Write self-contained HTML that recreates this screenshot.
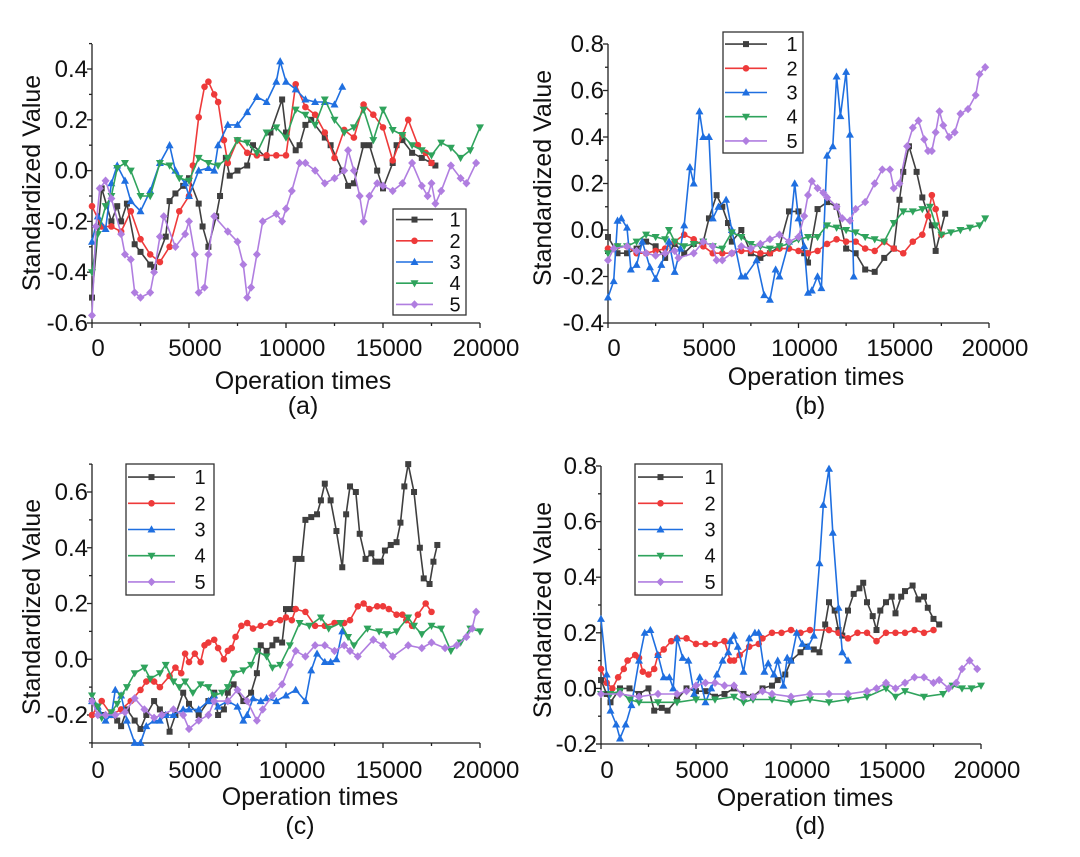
<!DOCTYPE html>
<html><head><meta charset="utf-8"><style>
html,body{margin:0;padding:0;background:#fff;}
svg{display:block;font-family:"Liberation Sans",Arial,sans-serif;}
</style></head><body>
<svg id="fig" width="1080" height="857" viewBox="0 0 1080 857" xmlns="http://www.w3.org/2000/svg"></svg>
<script>
// ---------- data ----------
const xTickLabels = [0, 5000, 10000, 15000, 20000];
const aYTicks = [-0.6, -0.4, -0.2, 0.0, 0.2, 0.4];
const bYTicks = [-0.4, -0.2, 0.0, 0.2, 0.4, 0.6, 0.8];
const cYTicks = [-0.2, 0.0, 0.2, 0.4, 0.6];
const dYTicks = [-0.2, 0.0, 0.2, 0.4, 0.6, 0.8];
const seriesNames = ["1", "2", "3", "4", "5"];

const a1 = [[0,-0.5],[500,-0.07],[1000,-0.2],[1300,-0.14],[1500,-0.2],[1800,-0.13],[2200,-0.29],[2500,-0.32],[3000,-0.37],[3200,-0.38],[3800,-0.26],[4000,-0.12],[4300,-0.09],[4700,-0.06],[5000,-0.03],[5500,-0.13],[5700,-0.22],[6000,-0.3],[6400,-0.18],[6600,-0.1],[6900,0.05],[7100,-0.02],[7500,0.0],[8000,0.02],[8300,0.1],[9000,0.05],[9200,0.15],[9800,0.28],[10000,0.15],[10500,0.08],[10700,0.1],[11000,0.18],[11300,0.2],[12000,0.13],[12300,0.1],[12900,0.0],[13200,-0.06],[13500,-0.05],[14000,0.1],[14300,0.1],[14700,0.0],[15000,-0.07],[15500,0.03],[15700,0.1],[16000,0.12],[16500,0.07],[17000,0.05],[17500,0.03],[17700,0.02]];
const a2 = [[0,-0.14],[500,-0.22],[1000,-0.22],[1500,-0.24],[2000,-0.16],[2500,-0.27],[3000,-0.33],[3500,-0.36],[4000,-0.3],[4500,-0.16],[5000,-0.1],[5200,0.02],[5500,0.21],[5800,0.33],[6000,0.35],[6300,0.3],[6500,0.27],[6800,0.12],[7000,0.03],[7500,0.12],[8000,0.07],[8500,0.06],[9000,0.06],[9500,0.06],[10000,0.06],[10500,0.34],[11000,0.25],[11500,0.22],[12000,0.15],[12500,0.05],[13000,0.16],[13500,0.13],[14000,0.26],[14500,0.22],[15000,0.17],[15500,0.04],[16000,0.14],[16300,0.2],[16800,0.1],[17200,0.07],[17500,0.03]];
const a3 = [[0,-0.28],[300,-0.18],[700,-0.23],[1000,-0.05],[1300,0.02],[1700,-0.04],[2000,-0.12],[2500,-0.16],[3000,-0.08],[3500,0.03],[4000,0.1],[4300,0.0],[4800,-0.05],[5000,-0.1],[5500,0.0],[6000,0.01],[6300,0.0],[6500,0.1],[7000,0.18],[7500,0.18],[8000,0.23],[8500,0.29],[9000,0.27],[9500,0.35],[9700,0.43],[10000,0.35],[10500,0.32],[11000,0.28],[11500,0.27],[12000,0.27],[12500,0.26],[12900,0.33]];
const a4 = [[0,-0.4],[300,-0.25],[700,-0.14],[1000,-0.1],[1300,0.01],[1700,0.03],[2000,0.0],[2500,-0.1],[3000,-0.1],[3500,0.03],[4000,0.02],[4500,-0.03],[5000,-0.04],[5500,0.05],[6000,0.03],[6500,0.02],[7000,0.05],[7500,0.12],[8000,0.11],[8500,0.07],[9000,0.15],[9500,0.17],[10000,0.13],[10500,0.24],[11000,0.22],[11500,0.18],[12000,0.28],[12500,0.2],[13000,0.15],[13500,0.17],[14000,0.24],[14500,0.12],[15000,0.24],[15500,0.16],[16000,0.14],[16500,0.1],[17000,0.08],[17500,0.06],[18000,0.11],[18500,0.09],[19000,0.05],[19500,0.08],[20000,0.17]];
const a5 = [[0,-0.57],[200,-0.22],[400,-0.07],[700,-0.04],[1000,-0.11],[1500,-0.25],[1700,-0.33],[2000,-0.35],[2200,-0.48],[2500,-0.5],[3000,-0.48],[3200,-0.4],[3500,-0.26],[3700,-0.18],[4300,-0.3],[4800,-0.25],[5000,-0.2],[5300,-0.33],[5500,-0.48],[5800,-0.46],[6000,-0.33],[6300,-0.18],[7000,-0.24],[7500,-0.28],[7800,-0.37],[8000,-0.5],[8200,-0.46],[8500,-0.33],[8800,-0.2],[9500,-0.17],[9800,-0.2],[10000,-0.15],[10300,-0.08],[10700,0.03],[11000,0.03],[11500,0.0],[12000,-0.05],[12500,-0.03],[13000,0.0],[13200,0.08],[13500,0.0],[13800,-0.1],[14000,-0.2],[14300,-0.1],[14700,-0.05],[15000,-0.06],[15500,-0.08],[16000,-0.05],[16500,0.03],[17000,-0.06],[17300,-0.1],[17500,-0.05],[17700,-0.13],[18000,-0.08],[18500,0.02],[19000,-0.03],[19300,-0.05],[19800,0.03]];

const b1 = [[0,-0.03],[500,-0.1],[1000,-0.1],[1500,-0.08],[2000,-0.05],[2500,-0.07],[3000,-0.12],[3500,-0.06],[4000,-0.1],[4500,-0.06],[5000,-0.05],[5300,0.05],[5700,0.15],[6000,0.1],[6300,0.03],[6500,-0.05],[7000,0.0],[7500,-0.1],[8000,-0.12],[8500,-0.1],[9000,-0.07],[9500,0.08],[10000,0.08],[10300,-0.1],[10500,-0.14],[11000,0.09],[11500,0.12],[12000,0.1],[12500,-0.08],[13000,-0.1],[13500,-0.17],[14000,-0.18],[14500,-0.12],[15000,-0.08],[15300,0.13],[15500,0.25],[15800,0.36],[16200,0.25],[16500,0.14],[17000,0.02],[17200,-0.09],[17700,0.07]];
const b2 = [[0,-0.08],[500,-0.07],[1000,-0.07],[1500,-0.1],[2000,-0.1],[2500,-0.09],[3000,-0.08],[3500,-0.05],[4000,-0.02],[4500,-0.04],[5000,-0.07],[5500,-0.1],[6000,-0.1],[6500,-0.1],[7000,-0.09],[7500,-0.09],[8000,-0.1],[8500,-0.1],[9000,-0.08],[9500,-0.08],[10000,-0.09],[10500,-0.1],[11000,-0.09],[11500,-0.06],[12000,-0.04],[12500,-0.05],[13000,-0.05],[13500,-0.08],[14000,-0.09],[14500,-0.05],[15000,-0.08],[15500,-0.1],[16000,-0.05],[16500,-0.02],[16800,0.06],[17000,0.15],[17200,0.09],[17500,-0.02]];
const b3 = [[0,-0.29],[300,-0.22],[500,0.04],[700,0.05],[1000,0.01],[1200,-0.17],[1500,-0.15],[1800,-0.05],[2200,-0.16],[2500,-0.21],[2800,-0.15],[3200,-0.05],[3500,-0.18],[3800,-0.08],[4000,0.02],[4300,0.27],[4500,0.2],[4800,0.51],[5000,0.4],[5300,0.4],[5500,0.05],[5800,0.1],[6200,0.13],[6500,0.0],[7000,-0.2],[7200,-0.2],[7800,-0.13],[8200,-0.28],[8500,-0.3],[8800,-0.17],[9000,-0.2],[9500,-0.05],[9800,0.2],[10000,0.05],[10300,-0.07],[10500,-0.27],[10700,-0.26],[11000,-0.2],[11200,-0.25],[11500,0.32],[11800,0.36],[12000,0.66],[12200,0.49],[12500,0.68],[12700,0.41],[12900,-0.2]];
const b4 = [[0,-0.1],[500,-0.07],[1000,-0.07],[1500,-0.05],[2000,-0.02],[2500,-0.03],[3000,-0.04],[3200,0.0],[3500,-0.05],[4000,-0.07],[4500,-0.06],[5000,-0.05],[5500,-0.07],[6000,-0.08],[6500,-0.01],[7000,-0.03],[7500,-0.06],[8000,-0.07],[8500,-0.08],[9000,-0.07],[9500,-0.06],[10000,-0.04],[10500,-0.03],[11000,-0.03],[11500,0.02],[12000,0.01],[12500,0.0],[13000,-0.01],[13500,-0.03],[14000,-0.04],[14500,-0.05],[15000,0.03],[15500,0.08],[16000,0.08],[16500,0.09],[16900,0.1],[17200,0.02],[17500,-0.02],[18000,-0.01],[18500,0.0],[19000,0.01],[19500,0.02],[19800,0.05]];
const b5 = [[0,-0.13],[300,-0.08],[1000,-0.07],[1500,-0.09],[2000,-0.1],[2500,-0.11],[3000,-0.1],[3500,-0.09],[3700,-0.12],[4500,-0.1],[5000,-0.05],[5500,-0.07],[5700,-0.13],[6000,-0.13],[6500,-0.1],[7000,-0.07],[7500,-0.08],[8000,-0.06],[8500,-0.04],[9000,-0.02],[9500,-0.05],[10000,-0.03],[10300,0.06],[10500,0.15],[10700,0.21],[11000,0.18],[11300,0.16],[11500,0.14],[12000,0.1],[12300,0.05],[12700,0.04],[13000,0.09],[13500,0.12],[14000,0.2],[14400,0.26],[14800,0.26],[15000,0.18],[15300,0.2],[15700,0.36],[16000,0.44],[16300,0.47],[16600,0.39],[16800,0.34],[17000,0.34],[17200,0.42],[17400,0.51],[17600,0.45],[17900,0.4],[18200,0.42],[18500,0.5],[18900,0.52],[19300,0.58],[19500,0.67],[19800,0.7]];

const c1 = [[0,-0.15],[500,-0.2],[1000,-0.2],[1300,-0.22],[1500,-0.24],[1800,-0.18],[2200,-0.22],[2500,-0.25],[2800,-0.2],[3200,-0.15],[3500,-0.18],[3800,-0.2],[4000,-0.26],[4300,-0.2],[4700,-0.12],[5000,-0.16],[5500,-0.2],[6000,-0.15],[6300,-0.12],[6500,-0.2],[6800,-0.18],[7000,-0.12],[7300,-0.09],[7800,-0.15],[8200,-0.12],[8500,-0.05],[8700,0.05],[9000,0.03],[9300,0.05],[9500,0.07],[9800,0.06],[10000,0.18],[10300,0.18],[10500,0.36],[10800,0.36],[11000,0.5],[11300,0.51],[11600,0.52],[11800,0.57],[12000,0.63],[12300,0.57],[12600,0.46],[12900,0.33],[13100,0.52],[13300,0.62],[13600,0.6],[13800,0.45],[14100,0.36],[14400,0.38],[14600,0.35],[14900,0.35],[15100,0.39],[15400,0.41],[15700,0.42],[15900,0.49],[16100,0.62],[16300,0.7],[16600,0.6],[16900,0.4],[17100,0.29],[17400,0.27],[17600,0.35],[17800,0.41]];
const c2 = [[0,-0.2],[500,-0.15],[1000,-0.2],[1500,-0.18],[2000,-0.15],[2500,-0.11],[2800,-0.08],[3200,-0.08],[3500,-0.1],[4000,-0.06],[4300,-0.03],[4600,-0.05],[4800,0.02],[5000,-0.01],[5300,0.02],[5600,-0.01],[5800,0.05],[6000,0.06],[6300,0.07],[6500,0.04],[6800,0.0],[7000,0.03],[7200,0.04],[7400,0.08],[7700,0.12],[8000,0.13],[8300,0.11],[8700,0.12],[9200,0.13],[9700,0.14],[10000,0.15],[10300,0.14],[10500,0.18],[11000,0.17],[11500,0.12],[12000,0.12],[12500,0.13],[13000,0.13],[13300,0.14],[13700,0.19],[14000,0.2],[14300,0.18],[14700,0.19],[15000,0.19],[15300,0.18],[15700,0.16],[16000,0.16],[16200,0.14],[16500,0.12],[16800,0.16],[17200,0.2],[17500,0.17]];
const c3 = [[0,-0.15],[300,-0.17],[700,-0.22],[1000,-0.2],[1200,-0.11],[1500,-0.13],[1800,-0.22],[2200,-0.3],[2500,-0.3],[2800,-0.24],[3200,-0.22],[3500,-0.22],[3800,-0.2],[4200,-0.2],[4700,-0.18],[5000,-0.18],[5500,-0.18],[6000,-0.15],[6300,-0.13],[6500,-0.17],[7000,-0.15],[7500,-0.17],[7800,-0.22],[8000,-0.2],[8300,-0.14],[8700,-0.15],[9000,-0.14],[9500,-0.15],[10000,-0.13],[10500,-0.11],[11000,-0.15],[11300,-0.04],[11600,0.02],[12000,-0.01],[12300,-0.01],[12600,0.0],[12900,0.1]];
const c4 = [[0,-0.13],[300,-0.17],[500,-0.21],[1000,-0.19],[1300,-0.16],[1500,-0.13],[1800,-0.1],[2200,-0.05],[2700,-0.03],[3000,-0.07],[3500,-0.05],[3800,-0.02],[4200,-0.08],[4500,-0.1],[4800,-0.08],[5200,-0.12],[5600,-0.09],[6000,-0.1],[6300,-0.13],[6700,-0.12],[7000,-0.1],[7300,-0.05],[7800,-0.04],[8200,-0.02],[8500,0.03],[9000,0.01],[9300,-0.03],[9700,-0.02],[10200,0.05],[10700,0.13],[11200,0.12],[11800,0.15],[12200,0.11],[12800,0.13],[13200,0.08],[13500,0.05],[14200,0.11],[14800,0.1],[15200,0.09],[15700,0.1],[16300,0.15],[16600,0.12],[17000,0.09],[17500,0.12],[18000,0.11],[18500,0.03],[19000,0.06],[19500,0.11],[20000,0.1]];
const c5 = [[0,-0.15],[300,-0.2],[700,-0.2],[1200,-0.2],[1700,-0.19],[2200,-0.14],[2700,-0.18],[3200,-0.21],[3600,-0.2],[4200,-0.18],[4700,-0.2],[5000,-0.25],[5500,-0.22],[6000,-0.2],[6300,-0.15],[7000,-0.15],[7500,-0.11],[8000,-0.15],[8500,-0.22],[8800,-0.18],[9300,-0.13],[9800,-0.09],[10200,-0.02],[10500,0.03],[11000,0.01],[11500,0.05],[12000,0.05],[12500,0.03],[13000,0.05],[13300,0.03],[13700,0.01],[14500,0.07],[15000,0.05],[15500,0.01],[16300,0.05],[17000,0.04],[17500,0.06],[18200,0.04],[18800,0.05],[19300,0.08],[19600,0.11],[19800,0.17]];

const d1 = [[0,0.03],[300,-0.02],[500,-0.05],[1000,0.0],[1500,0.0],[2000,-0.02],[2500,0.0],[2800,-0.08],[3200,-0.07],[3500,-0.08],[4000,-0.04],[4500,0.0],[5000,-0.01],[5500,-0.01],[6000,-0.03],[6500,-0.02],[7000,0.0],[7500,-0.02],[8000,-0.03],[8500,0.0],[9000,0.01],[9300,0.03],[9700,0.05],[10000,0.1],[10500,0.13],[10800,0.15],[11200,0.14],[11500,0.13],[11800,0.23],[12000,0.31],[12300,0.28],[12500,0.21],[12700,0.19],[13000,0.28],[13300,0.34],[13600,0.36],[13800,0.38],[14000,0.31],[14300,0.26],[14500,0.21],[14700,0.28],[15000,0.31],[15300,0.33],[15500,0.27],[15800,0.33],[16000,0.35],[16400,0.37],[16700,0.32],[17000,0.33],[17200,0.29],[17500,0.25],[17800,0.23]];
const d2 = [[0,0.07],[300,0.02],[600,0.0],[900,0.04],[1200,0.07],[1400,0.1],[1800,0.12],[2000,0.11],[2200,0.06],[2500,0.05],[2800,0.07],[3000,0.12],[3300,0.14],[3700,0.17],[4000,0.18],[4500,0.18],[5000,0.16],[5500,0.16],[6000,0.16],[6500,0.17],[6800,0.1],[7000,0.1],[7300,0.12],[7800,0.15],[8300,0.16],[8500,0.18],[9000,0.2],[9500,0.2],[10000,0.21],[10500,0.2],[11000,0.21],[12000,0.21],[12500,0.2],[13000,0.18],[13500,0.2],[14000,0.2],[14500,0.17],[15000,0.2],[15500,0.2],[16000,0.2],[16500,0.21],[17000,0.2],[17500,0.21]];
const d3 = [[0,0.25],[300,0.05],[500,-0.08],[800,-0.13],[1000,-0.18],[1300,-0.13],[1600,-0.06],[2000,0.1],[2300,0.2],[2600,0.21],[3000,0.12],[3300,0.04],[3600,0.04],[3800,0.0],[4000,0.18],[4300,0.11],[4600,0.1],[4900,-0.02],[5200,0.04],[5500,-0.05],[5800,0.0],[6100,0.05],[6400,0.1],[6700,0.13],[6800,0.17],[7000,0.19],[7200,0.15],[7500,0.06],[7800,0.18],[8100,0.2],[8300,0.2],[8600,0.06],[8800,0.09],[9100,0.05],[9300,0.1],[9600,0.01],[9800,0.11],[10000,0.1],[10300,0.2],[10600,0.16],[10900,0.15],[11200,0.19],[11500,0.45],[11700,0.66],[12000,0.79],[12200,0.56],[12500,0.29],[12700,0.13],[13000,0.1]];
const d4 = [[0,-0.02],[500,-0.02],[1000,-0.01],[1500,-0.04],[2000,-0.05],[3000,-0.05],[4000,-0.05],[5000,-0.04],[6000,-0.04],[7000,-0.03],[7500,-0.05],[8000,-0.04],[9000,-0.04],[10000,-0.05],[11000,-0.04],[12000,-0.05],[13000,-0.04],[14000,-0.03],[15000,0.0],[15500,-0.03],[16000,-0.01],[17000,-0.03],[18000,-0.02],[18500,0.01],[19000,0.0],[19500,0.0],[20000,0.01]];
const d5 = [[0,-0.02],[1000,-0.02],[2000,-0.03],[3000,-0.02],[4000,-0.02],[4500,-0.01],[5000,0.01],[5500,0.02],[6000,0.02],[6500,0.01],[7000,0.01],[7500,-0.03],[8000,-0.03],[8500,-0.01],[9000,-0.02],[10000,-0.03],[11000,-0.02],[12000,-0.02],[13000,-0.02],[14000,-0.01],[14500,0.0],[15000,0.02],[15500,0.0],[16000,0.02],[16500,0.04],[17000,0.04],[17500,0.02],[17800,0.03],[18300,0.0],[18700,0.02],[19000,0.07],[19400,0.1],[19800,0.07]];

// ---------- rendering ----------
const NS = "http://www.w3.org/2000/svg";
const COLORS = ["#3f3f3f", "#ee3a3a", "#1f6fe0", "#2fa35c", "#b07ee0"];
const MARKERS = ["square", "circle", "up", "down", "diamond"];
const svg = document.getElementById("fig");

function mk(tag, attrs, parent) {
  const e = document.createElementNS(NS, tag);
  for (const k in attrs) e.setAttribute(k, attrs[k]);
  (parent || svg).appendChild(e);
  return e;
}
function marker(g, type, x, y, color) {
  let e;
  if (type === "square") e = mk("rect", {x: x-3, y: y-3, width: 6, height: 6, fill: color}, g);
  else if (type === "circle") e = mk("circle", {cx: x, cy: y, r: 3.3, fill: color}, g);
  else if (type === "up") e = mk("polygon", {points: `${x},${y-4.2} ${x+4},${y+3} ${x-4},${y+3}`, fill: color}, g);
  else if (type === "down") e = mk("polygon", {points: `${x},${y+4.2} ${x+4},${y-3} ${x-4},${y-3}`, fill: color}, g);
  else e = mk("polygon", {points: `${x},${y-4.2} ${x+4},${y} ${x},${y+4.2} ${x-4},${y}`, fill: color}, g);
  return e;
}

function drawPanel(P, data, yTicks) {
  const g = mk("g", {});
  
  
  const xs = v => P.x0 + v / 20000 * (P.x1 - P.x0);
  const ys = v => P.yp0 + (v - P.yv0) / (P.yv1 - P.yv0) * (P.yp1 - P.yp0);

  const ax = mk("g", {stroke: "#222", "stroke-width": 1.3}, g);
  
  
  mk("line", {x1: P.x0, y1: P.top, x2: P.x0, y2: P.bottom}, ax);
  mk("line", {x1: P.x0, y1: P.bottom, x2: P.x1, y2: P.bottom}, ax);
  for (let v = 0; v <= 20000; v += 2500) {
    const x = xs(v), major = v % 5000 === 0;
    mk("line", {x1: x, y1: P.bottom, x2: x, y2: P.bottom + (major ? 5 : 3)}, ax);
  }
  const step = yTicks[1] - yTicks[0];
  for (let i = 0; i < yTicks.length; i++) {
    const y = ys(yTicks[i]);
    mk("line", {x1: P.x0 - 5, y1: y, x2: P.x0, y2: y}, ax);
    const ym = ys(yTicks[i] + step / 2);
    if (ym >= P.top - 0.5) mk("line", {x1: P.x0 - 3, y1: ym, x2: P.x0, y2: ym}, ax);
    const ymb = ys(yTicks[i] - step / 2);
    if (i === 0 && ymb <= P.bottom + 0.5) mk("line", {x1: P.x0 - 3, y1: ymb, x2: P.x0, y2: ymb}, ax);
    const t = mk("text", {x: P.x0 - 4, y: y + 8, "text-anchor": "end", "font-size": 24, fill: "#111"}, g);
    t.textContent = yTicks[i].toFixed(1);
    
    
  }
  for (const v of xTickLabels) {
    const t = mk("text", {x: xs(v) + 6, y: P.xLabelY + 8, "text-anchor": "middle", "font-size": 24, fill: "#111"}, g);
    t.textContent = String(v);
    
    
  }
  const xt = mk("text", {x: P.xTitleX, y: P.xTitleY + 8, "text-anchor": "middle", "font-size": 25, fill: "#111"}, g);
  xt.textContent = "Operation times";
  
  
  const cap = mk("text", {x: P.capX, y: P.capY + 9, "text-anchor": "middle", "font-size": 25, fill: "#111"}, g);
  cap.textContent = "(" + P.id + ")";
  
  
  const yt = mk("text", {x: 0, y: 0, "text-anchor": "middle", "font-size": 25, fill: "#111",
    transform: `translate(${P.yTitleX + 8},${P.yTitleY}) rotate(-90)`}, g);
  yt.textContent = "Standardized Value";
  
  

  data.forEach((s, k) => {
    const sg = mk("g", {}, g);
    
    
    const pts = s.map(p => xs(p[0]).toFixed(1) + "," + ys(p[1]).toFixed(1)).join(" ");
    const pl = mk("polyline", {points: pts, fill: "none", stroke: COLORS[k], "stroke-width": 1.6}, sg);
    
    
    s.forEach(p => {
      const m = marker(sg, MARKERS[k], xs(p[0]), ys(p[1]), COLORS[k]);
      
      
    });
  });

  const L = P.leg;
  const lg = mk("g", {}, g);
  
  
  mk("rect", {x: L.x, y: L.y, width: L.w, height: L.h, fill: "#fff", stroke: "#333", "stroke-width": 1.3}, lg);
  const rh = L.h / 5;
  seriesNames.forEach((n, k) => {
    const y = L.y + rh * (k + 0.5);
    const eg = mk("g", {}, lg);
    
    
    mk("line", {x1: L.lx1, y1: y, x2: L.lx2, y2: y, stroke: COLORS[k], "stroke-width": 1.6}, eg);
    marker(eg, MARKERS[k], (L.lx1 + L.lx2) / 2, y, COLORS[k]);
    const t = mk("text", {x: L.tx, y: y + 7, "text-anchor": "middle", "font-size": 20, fill: "#111"}, eg);
    t.textContent = n;
  });
}

drawPanel({id: "a", x0: 92, x1: 480, yv0: 0.4, yp0: 69, yv1: -0.6, yp1: 323, top: 44, bottom: 323,
  xLabelY: 348, xTitleX: 303, xTitleY: 381, capX: 303, capY: 405, yTitleX: 32, yTitleY: 183,
  leg: {x: 393, y: 209, w: 73, h: 106, lx1: 396, lx2: 433, tx: 455}}, [a1, a2, a3, a4, a5], aYTicks);
drawPanel({id: "b", x0: 608, x1: 989, yv0: 0.8, yp0: 44, yv1: -0.4, yp1: 323, top: 44, bottom: 323,
  xLabelY: 348, xTitleX: 816, xTitleY: 377, capX: 810, capY: 405, yTitleX: 543, yTitleY: 178,
  leg: {x: 723, y: 32, w: 80, h: 121, lx1: 725, lx2: 767, tx: 792}}, [b1, b2, b3, b4, b5], bYTicks);
drawPanel({id: "c", x0: 92, x1: 480, yv0: 0.6, yp0: 492, yv1: -0.2, yp1: 715, top: 464, bottom: 743,
  xLabelY: 770, xTitleX: 310, xTitleY: 797, capX: 300, capY: 825, yTitleX: 32, yTitleY: 607,
  leg: {x: 126, y: 464, w: 88, h: 131, lx1: 128, lx2: 175, tx: 200}}, [c1, c2, c3, c4, c5], cYTicks);
drawPanel({id: "d", x0: 601, x1: 981, yv0: 0.8, yp0: 466, yv1: -0.2, yp1: 744, top: 466, bottom: 744,
  xLabelY: 770, xTitleX: 805, xTitleY: 798, capX: 810, capY: 825, yTitleX: 543, yTitleY: 610,
  leg: {x: 635, y: 464, w: 87, h: 131, lx1: 638, lx2: 683, tx: 710}}, [d1, d2, d3, d4, d5], dYTicks);
</script>
</body></html>
